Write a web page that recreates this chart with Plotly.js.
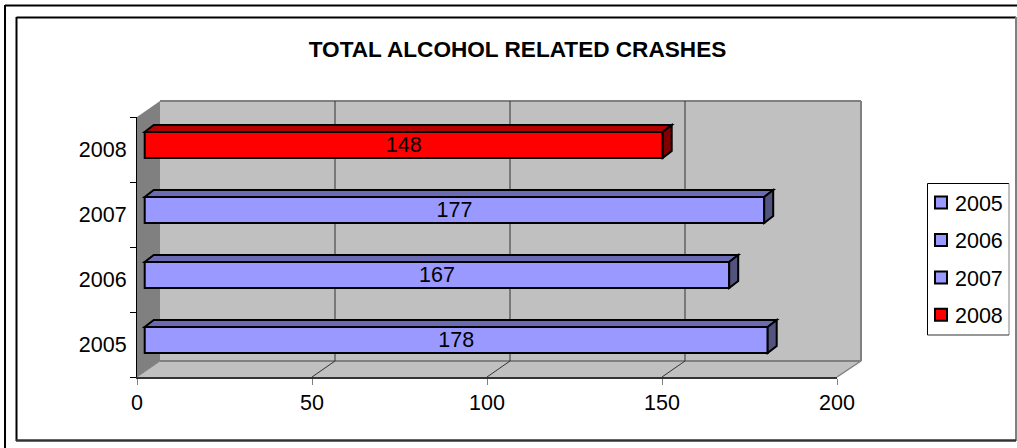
<!DOCTYPE html>
<html><head><meta charset="utf-8">
<script src="https://cdn.plot.ly/plotly-3.0.1.min.js"></script>
<style>html,body{margin:0;padding:0;background:#fff;overflow:hidden}</style>
</head><body><div id="chart" style="width:1017px;height:448px"></div>
<script>
const years = ['2005','2006','2007','2008'];
const crashes = [178,167,177,148];
const frontColors = ['#9999FF','#9999FF','#9999FF','#FF0000'];
const topColors = ['#6B6BB3','#6B6BB3','#6B6BB3','#B30000'];
const sideColors = ['#535380','#535380','#535380','#800000'];
const xTicks = [0,50,100,150,200];
const chartTitle = 'TOTAL ALCOHOL RELATED CRASHES';

const W=1017,H=448,L=137,R=861,T=101,B=377;
const plotW=R-L, plotH=B-T;
const pxX=p=>(p-L)/plotW, pxY=p=>(B-p)/plotH;
const poly=(pts,fill,extra)=>Object.assign({type:'path',xref:'paper',yref:'paper',layer:'below',
  path:'M'+pts.map(p=>pxX(p[0])+','+pxY(p[1])).join('L')+'Z',fillcolor:fill,line:{width:0}},extra||{});
const seg=(x0,y0,x1,y1,color,width)=>({type:'line',xref:'paper',yref:'paper',layer:'below',
  x0:pxX(x0),y0:pxY(y0),x1:pxX(x1),y1:pxY(y1),line:{color:color,width:width}});

const unitPx=3.5, depthX=23;
const shapes=[
  poly([[160,101],[861,101],[861,361],[160,361]],'#C0C0C0'),
  poly([[137,117],[160,101],[160,361],[137,377]],'#808080'),
  poly([[137,377],[837,377],[861,361],[160,361]],'#C0C0C0'),
  seg(160,361,861,361,'#808080',2),
  seg(160,101,861,101,'#808080',2),
  seg(861,101,861,361,'#808080',2),
  seg(837,377,861,361,'#808080',1.5),
  seg(137,377,160,361,'#808080',1),
  // frames
  seg(5,5.5,1017,5.5,'#000',2), seg(5,5,5,448,'#000',2),
  seg(16.5,17.5,1016,17.5,'#000',2), seg(16.5,17,16.5,441,'#000',2),
  seg(1016,17,1016,441,'#808080',2), seg(16,440.5,1016,440.5,'#333',2.5),
  // legend box
  seg(927.5,183.5,1009,183.5,'#000',1), seg(927.5,183.5,927.5,335,'#000',1),
  seg(1009,183.5,1009,335,'#808080',1), seg(927.5,335,1009,335,'#333',1)
];
// gridlines with their floor diagonals, placed from the tick values
xTicks.slice(1,4).forEach(v=>{
  const off=depthX/unitPx;
  shapes.push({type:'path',xref:'x',yref:'paper',layer:'below',
    path:`M${v},${pxY(377)}L${v+off},${pxY(361)}L${v+off},${pxY(101)}`,line:{color:'#333',width:1}});
});
// top and right faces of each bar, placed from the values
const barHalf=0.2, dx=9/unitPx, dy=7/65;
years.forEach((y,i)=>{
  const v=crashes[i];
  const common={type:'path',xref:'x2',yref:'y2',layer:'above',line:{color:'#000',width:2}};
  shapes.push(Object.assign({},common,{fillcolor:topColors[i],
    path:`M0,${i+barHalf}L${dx},${i+barHalf+dy}L${v+dx},${i+barHalf+dy}L${v},${i+barHalf}Z`}));
  shapes.push(Object.assign({},common,{fillcolor:sideColors[i],
    path:`M${v},${i+barHalf}L${v+dx},${i+barHalf+dy}L${v+dx},${i-barHalf+dy}L${v},${i-barHalf}Z`}));
});

const font={family:'"Liberation Sans",Arial,sans-serif',size:21.5,color:'#000'};
const traces=years.map((y,i)=>({type:'bar',orientation:'h',name:y,legendgroup:y,
  x:[crashes[i]],y:[i],xaxis:'x2',yaxis:'y2',width:0.4,
  marker:{color:frontColors[i],line:{color:'#000',width:2}},
  text:[String(crashes[i])],textposition:'inside',insidetextanchor:'middle',textangle:0,
  constraintext:'none',insidetextfont:font,cliponaxis:false,hoverinfo:'x+name'}));
traces.unshift({type:'scatter',mode:'markers',x:[],y:[],xaxis:'x',yaxis:'y',showlegend:false,hoverinfo:'skip'});

const layout={
  width:W,height:H,paper_bgcolor:'#fff',plot_bgcolor:'rgba(0,0,0,0)',
  margin:{l:L,r:W-R,t:T,b:H-B,pad:0,autoexpand:false},
  barmode:'overlay',font:font,
  title:{text:'<b>'+chartTitle+'</b>',x:517.5/W,xanchor:'center',y:1-49/H,yanchor:'middle',
    font:{family:font.family,size:22.6,color:'#000'}},
  xaxis:{range:[0,200],domain:[0,700/plotW],anchor:'y',tickvals:xTicks,ticks:'outside',ticklen:6,tickwidth:1,
    ticklabelstandoff:-1,tickcolor:'#808080',showgrid:false,zeroline:false,showline:true,linecolor:'#333',linewidth:2,tickfont:font},
  yaxis:{range:[-0.5,3.5],domain:[0,260/plotH],anchor:'x',tickvals:[0,1,2,3],ticktext:years,ticks:'',
    ticklabelstandoff:5,showgrid:false,zeroline:false,showline:true,linecolor:'#000',linewidth:1,tickfont:font,
    minor:{tickvals:[-0.5,0.5,1.5,2.5,3.5],ticks:'outside',ticklen:6,tickwidth:1,tickcolor:'#000',showgrid:false}},
  xaxis2:{range:[-2,200],domain:[0.7/plotW,707.7/plotW],anchor:'y2',visible:false,fixedrange:true},
  yaxis2:{range:[-0.5,3.5],domain:[4.5/plotH,264.5/plotH],anchor:'x2',visible:false,fixedrange:true},
  legend:{x:pxX(921),y:pxY(182),xanchor:'left',yanchor:'top',bgcolor:'rgba(0,0,0,0)',borderwidth:0,
    font:font,traceorder:'grouped',tracegroupgap:6.5,itemclick:false,itemdoubleclick:false},
  shapes:shapes,showlegend:true
};
Plotly.newPlot('chart',traces,layout,{displayModeBar:false}).then(gd=>{
  gd.querySelectorAll('.legend .legendtext').forEach(t=>t.setAttribute('x','34'));
});
</script></body></html>
